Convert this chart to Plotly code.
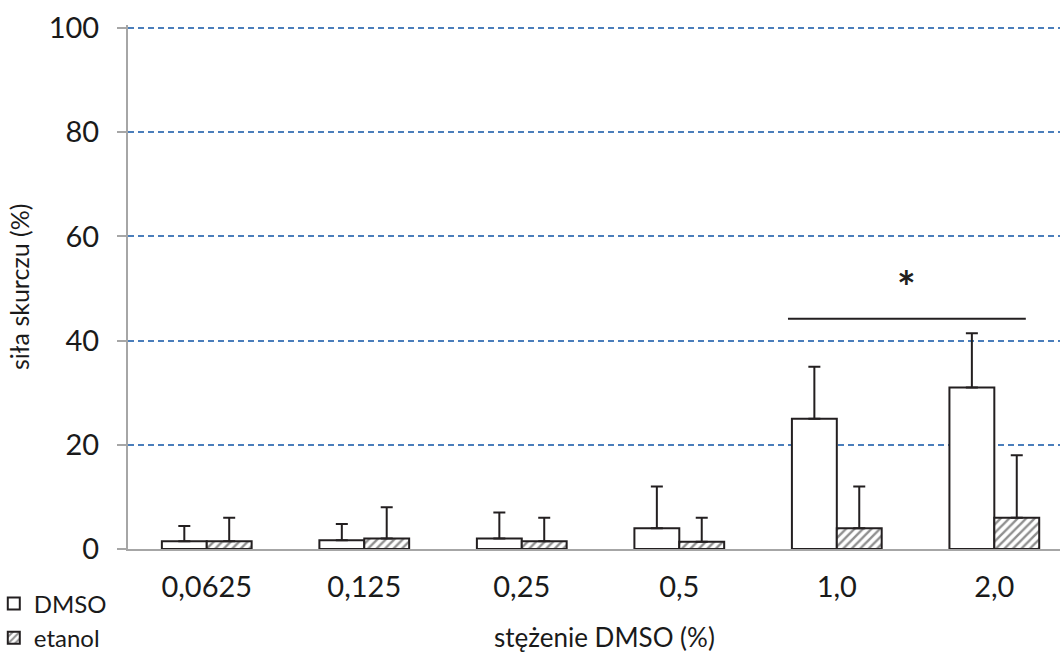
import plotly.graph_objects as go

# Stężenia DMSO (%) – etykiety osi X
categories = ["0,0625", "0,125", "0,25", "0,5", "1,0", "2,0"]

# Średnia siła skurczu (%) i górna granica słupka błędu
dmso_mean = [1.5, 1.7, 2.0, 4.0, 25.0, 31.0]
dmso_upper = [4.4, 4.8, 7.0, 12.0, 35.0, 41.4]
etanol_mean = [1.5, 2.0, 1.5, 1.4, 4.0, 6.0]
etanol_upper = [6.0, 8.0, 6.0, 6.0, 12.0, 18.0]

y_ticks = [0, 20, 40, 60, 80, 100]

# Oznaczenie istotności statystycznej
sig_level = 44.2
sig_star_level = 50.5

FONT = "Lato"
LINE = "#231f20"
TEXT = "#1a1a1a"

dmso_err = [u - m for u, m in zip(dmso_upper, dmso_mean)]
etanol_err = [u - m for u, m in zip(etanol_upper, etanol_mean)]

fig = go.Figure()
fig.add_trace(go.Bar(
    name="DMSO", x=categories, y=dmso_mean,
    marker=dict(color="white", line=dict(color=LINE, width=2)),
    error_y=dict(type="data", array=dmso_err, arrayminus=[0] * len(dmso_err),
                 symmetric=False, color=LINE, thickness=2, width=6),
))
fig.add_trace(go.Bar(
    name="etanol", x=categories, y=etanol_mean,
    marker=dict(color="white", line=dict(color=LINE, width=2),
                pattern=dict(shape="/", fgcolor="#1f1f1f", bgcolor="white",
                             size=6, solidity=0.4)),
    error_y=dict(type="data", array=etanol_err, arrayminus=[0] * len(etanol_err),
                 symmetric=False, color=LINE, thickness=2, width=6),
))

# Linia i gwiazdka nad grupami 1,0 i 2,0
fig.add_shape(type="line", xref="x", yref="y", x0=3.69, x1=5.2,
              y0=sig_level, y1=sig_level, line=dict(color=LINE, width=2))
fig.add_annotation(x=4.44, y=sig_star_level, xref="x", yref="y", text="<b>*</b>",
                   showarrow=False, font=dict(family=FONT, size=44, color=LINE))

# Tytuły osi jako adnotacje
fig.add_annotation(text="stężenie DMSO (%)", xref="paper", yref="paper",
                   x=0.511, y=-0.167, xanchor="center", yanchor="middle",
                   showarrow=False, font=dict(family=FONT, size=26, color=TEXT))
fig.add_annotation(text="siła skurczu (%)", xref="paper", yref="paper",
                   x=-0.117, y=0.5, xanchor="center", yanchor="middle", textangle=-90,
                   showarrow=False, font=dict(family=FONT, size=25, color=TEXT))

fig.update_layout(
    width=1060, height=653,
    margin=dict(l=128, r=0, t=25, b=104, autoexpand=False),
    paper_bgcolor="white", plot_bgcolor="white",
    barmode="group", bargap=0.43, bargroupgap=0,
    font=dict(family=FONT, color=TEXT),
    showlegend=True,
    legend=dict(xref="paper", yref="paper", x=-0.144, y=-0.062,
                xanchor="left", yanchor="top", tracegroupgap=0,
                font=dict(family=FONT, size=24, color=TEXT),
                itemwidth=30, bgcolor="rgba(0,0,0,0)"),
    xaxis=dict(
        range=[-0.5, 5.417], showline=True, linecolor="#a6a6a6", linewidth=2,
        ticks="", tickfont=dict(size=29), showgrid=False, automargin=False,
        ticklabelstandoff=11,
    ),
    yaxis=dict(
        range=[0, 100.6], tickvals=y_ticks, showline=True, linecolor="#a6a6a6",
        linewidth=2, ticks="outside", ticklen=9, tickcolor="#a6a6a6", tickwidth=2,
        tickfont=dict(size=29), showgrid=True, gridcolor="#4a7ebb", gridwidth=1.5,
        griddash="6px,4px", zeroline=False, automargin=False,
        ticklabelstandoff=12,
    ),
)

fig.write_html("out.html")
